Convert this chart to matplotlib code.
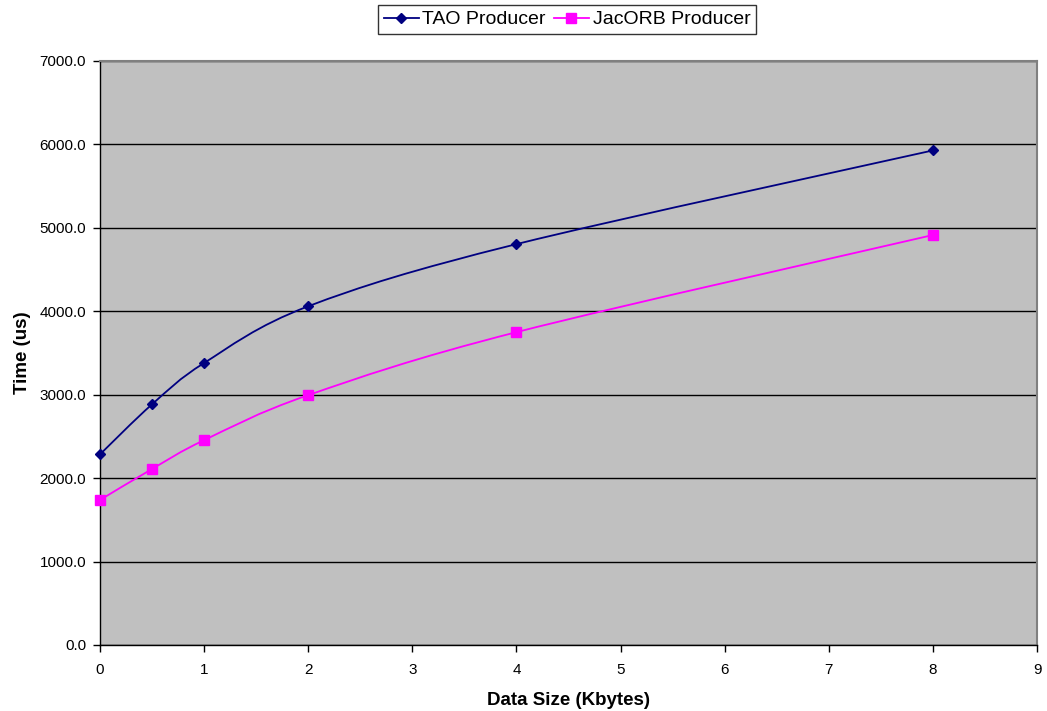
import matplotlib
matplotlib.use("Agg")
import matplotlib.pyplot as plt
import numpy as np
from matplotlib.lines import Line2D
from matplotlib.patches import PathPatch
from matplotlib.path import Path

plt.rcParams["font.family"] = ["Liberation Sans", "DejaVu Sans"]

data_size = [0, 0.5, 1, 2, 4, 8]
tao_time = [2285, 2885, 3380, 4060, 4805, 5928]
jacorb_time = [1738, 2110, 2455, 2995, 3750, 4914]

x_ticks = list(range(0, 10))
y_ticks = [0, 1000, 2000, 3000, 4000, 5000, 6000, 7000]


def smooth_path(xs, ys):
    # Excel-style smoothed line: cubic bezier segments through every point
    pts = np.column_stack([xs, ys]).astype(float)
    n = len(pts)
    verts = [pts[0]]
    codes = [Path.MOVETO]
    for i in range(n - 1):
        p_prev = pts[i - 1] if i > 0 else pts[i]
        p_next2 = pts[i + 2] if i + 2 < n else pts[i + 1]
        c1 = pts[i] + (pts[i + 1] - p_prev) / 6.0
        c2 = pts[i + 1] - (p_next2 - pts[i]) / 6.0
        verts += [c1, c2, pts[i + 1]]
        codes += [Path.CURVE4] * 3
    return Path(verts, codes)


fig = plt.figure(figsize=(10.47, 7.11), dpi=100)
ax = fig.add_axes([100 / 1047, 1 - 645 / 711, 937 / 1047, 584 / 711])
ax.set_facecolor("#C0C0C0")

series = [
    ("TAO Producer", tao_time, "#000080", "D", 5),
    ("JacORB Producer", jacorb_time, "#FF00FF", "s", 6.5),
]
handles = []
for name, values, color, marker, ms in series:
    ax.add_patch(PathPatch(smooth_path(data_size, values), facecolor="none",
                           edgecolor=color, lw=1.3, zorder=3))
    ax.plot(data_size, values, ls="none", marker=marker, ms=ms, color=color,
            zorder=4, clip_on=False)
    handles.append(Line2D([], [], color=color, lw=1.3, marker=marker, ms=ms))

ax.set_xlim(0, 9)
ax.set_ylim(0, 7000)
ax.set_xticks(x_ticks)
ax.set_yticks(y_ticks)
ax.set_yticklabels([f"{v:.1f}" for v in y_ticks])
ax.yaxis.grid(True, color="black", lw=1)
ax.set_axisbelow(True)
ax.tick_params(labelsize=11, length=5, width=1, colors="black", pad=5)
ax.tick_params(axis="x", pad=8)

for side in ["left", "bottom"]:
    ax.spines[side].set_color("black")
    ax.spines[side].set_linewidth(1)
for side in ["top", "right"]:
    ax.spines[side].set_color("#808080")
    ax.spines[side].set_linewidth(1.5)

ax.set_xlabel("Data Size (Kbytes)", fontsize=13.5, fontweight="bold", labelpad=11)
ax.set_ylabel("Time (us)", fontsize=13.5, fontweight="bold", labelpad=6)

leg = fig.legend(handles, [s[0] for s in series], loc="upper center",
                 bbox_to_anchor=(567 / 1047, 1 - 5 / 711), ncol=2, fontsize=14,
                 frameon=True, fancybox=False, edgecolor="black",
                 handlelength=1.8, handletextpad=0.2, columnspacing=0.4,
                 borderpad=0.3, borderaxespad=0)
leg.get_frame().set_linewidth(1)

fig.savefig("out.png", dpi=100)
